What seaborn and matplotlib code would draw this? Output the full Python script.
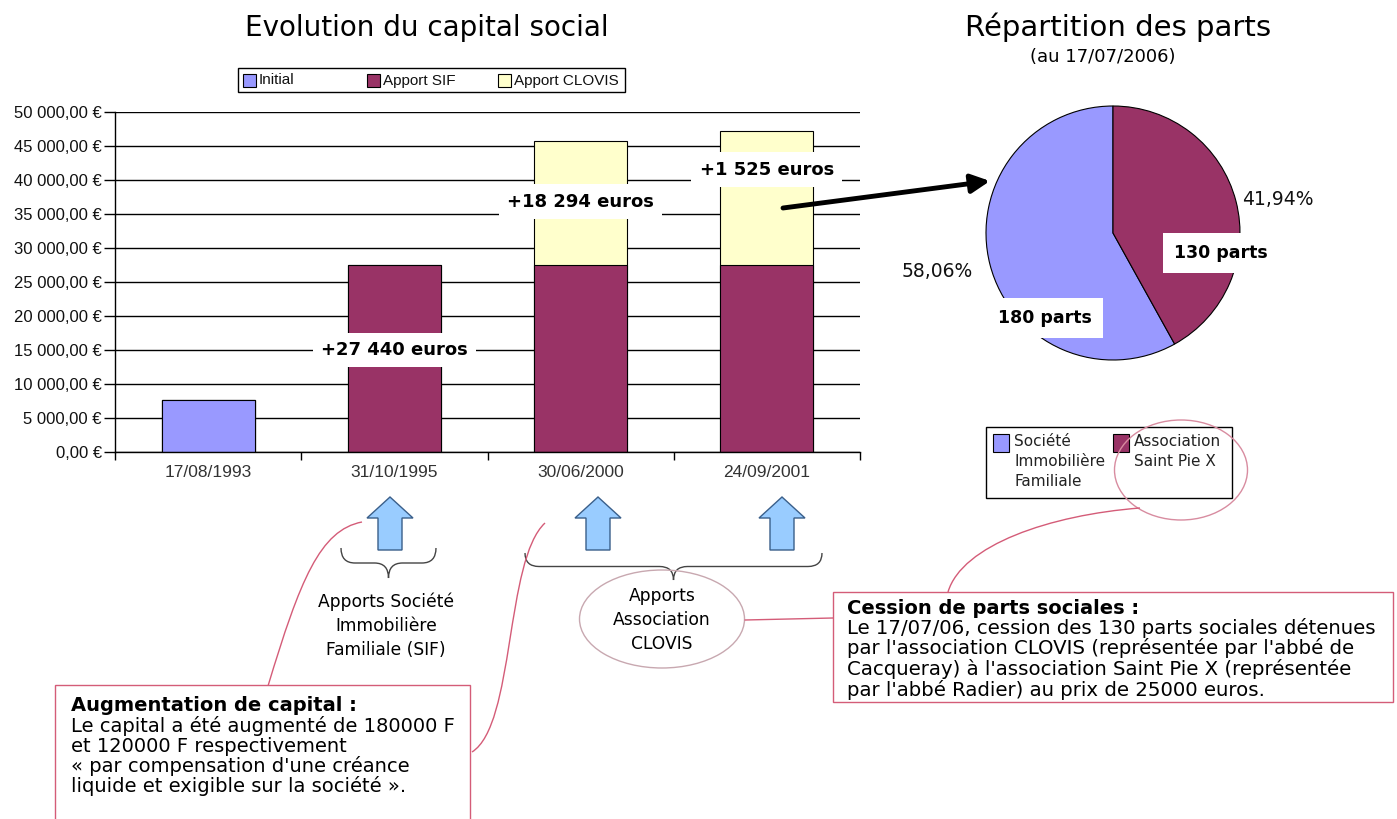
import matplotlib
matplotlib.use("Agg")
import matplotlib.pyplot as plt
import seaborn as sns
import pandas as pd
from matplotlib.patches import Ellipse, Rectangle, Polygon, PathPatch
from matplotlib.path import Path
from matplotlib.ticker import FuncFormatter, MultipleLocator, FixedLocator

# ---------------- data ----------------
dates = ["17/08/1993", "31/10/1995", "30/06/2000", "24/09/2001"]
initial = [7622.45, 0, 0, 0]
apport_sif = [0, 27440, 27440, 27440]
apport_clovis = [0, 0, 18294, 19819]
series_names = ["Initial", "Apport SIF", "Apport CLOVIS"]

pie_names = ["Société\nImmobilière\nFamiliale", "Association\nSaint Pie X"]
pie_parts = [180, 130]
pie_part_labels = ["180 parts", "130 parts"]

C_INIT = "#9999FF"
C_SIF = "#993366"
C_CLOVIS = "#FFFFCC"
C_RED = "#D45C78"
NARROW = ["Liberation Sans", "DejaVu Sans"]

sns.set_theme(style="white")
plt.rcParams["font.family"] = ["DejaVu Sans"]
plt.rcParams["text.color"] = "black"

W, H = 1397, 819
fig = plt.figure(figsize=(W / 100, H / 100), dpi=100)
fig.patch.set_facecolor("white")

def fx(px):
    return px / W

def fy(py):
    return 1 - py / H

# ---------------- bar chart ----------------
ax = fig.add_axes([fx(115), fy(452), fx(860) - fx(115), fy(112) - fy(452)])
df = pd.DataFrame({"date": dates, "initial": initial, "sif": apport_sif, "clovis": apport_clovis})
df["lvl1"] = df["initial"]
df["lvl2"] = df["initial"] + df["sif"]
df["lvl3"] = df["lvl2"] + df["clovis"]

for col, colr in [("lvl3", C_CLOVIS), ("lvl2", C_SIF), ("lvl1", C_INIT)]:
    sns.barplot(data=df, x="date", y=col, order=dates, color=colr, width=0.5,
                edgecolor="black", linewidth=0.8, saturation=1, ax=ax, zorder=2)

ax.set_ylim(0, 50000)
ax.set_xlim(-0.5, 3.5)
ax.yaxis.set_major_locator(MultipleLocator(5000))
ax.yaxis.set_major_formatter(FuncFormatter(
    lambda v, p: f"{v:,.2f}".replace(",", " ").replace(".", ",") + " €"))
ax.yaxis.grid(True, color="black", linewidth=1.0)
ax.set_axisbelow(True)
ax.set_xlabel("")
ax.set_ylabel("")
for s in ["top", "right"]:
    ax.spines[s].set_visible(False)
for s in ["left", "bottom"]:
    ax.spines[s].set_color("black")
    ax.spines[s].set_linewidth(1.0)
ax.tick_params(axis="y", direction="out", length=8, width=1, color="black",
               labelsize=12, pad=1.5, left=True, labelcolor="#111111",
               labelfontfamily="Liberation Sans")
ax.tick_params(axis="x", which="major", length=0, labelsize=12.5, pad=9, labelcolor="#333333",
               labelfontfamily="Liberation Sans")
ax.xaxis.set_minor_locator(FixedLocator([-0.5, 0.5, 1.5, 2.5, 3.5]))
ax.tick_params(axis="x", which="minor", direction="out", length=6, width=1, color="black", bottom=True)

# increment labels from data
inc_vals = [apport_sif[1], apport_clovis[2], apport_clovis[3] - apport_clovis[2]]
inc_pos = [(1, 15000), (2, 36800), (3, 41500)]
for v, (xi, yi) in zip(inc_vals, inc_pos):
    txt = "+" + f"{v:,.0f}".replace(",", " ") + " euros"
    ax.text(xi, yi, txt, ha="center", va="center", fontsize=13, fontweight="bold",
            zorder=5, bbox=dict(facecolor="white", edgecolor="none", pad=6))

# ---------------- pie chart ----------------
R = 127
L = 1.05
cx, cy = 1113, 233
half = L * R
axp = fig.add_axes([fx(cx - half), fy(cy + half), 2 * half / W, 2 * half / H])
wedges, _, autotexts = axp.pie(pie_parts, colors=[C_INIT, C_SIF], startangle=90,
                               wedgeprops=dict(edgecolor="black", linewidth=0.8),
                               autopct=lambda p: f"{p:.2f}%".replace(".", ","), pctdistance=1.38,
                               textprops=dict(fontsize=13.5, color="#111111"))
axp.set_xlim(-L, L)
axp.set_ylim(-L, L)
axp.set_aspect("equal")
for t, pos in zip(autotexts, [(-1.386, -0.307), (1.30, 0.26)]):
    t.set_position(pos)
for lab, (px_, py_) in zip(pie_part_labels, [(-0.535, -0.67), (0.85, -0.16)]):
    axp.text(px_, py_, lab, ha="center", va="center", fontsize=12.5, fontweight="bold",
             bbox=dict(facecolor="white", edgecolor="none", pad=8))

# ---------------- overlay annotations ----------------
ov = fig.add_axes([0, 0, 1, 1], zorder=10)
ov.set_xlim(0, W)
ov.set_ylim(H, 0)
ov.axis("off")
ov.patch.set_alpha(0)

# bar legend
ov.add_patch(Rectangle((238, 68), 387, 24, facecolor="white", edgecolor="black", lw=1))
for xh, name, colr in zip([243, 367, 498], series_names, [C_INIT, C_SIF, C_CLOVIS]):
    ov.add_patch(Rectangle((xh, 74), 13, 13, facecolor=colr, edgecolor="black", lw=0.8))
    ov.text(xh + 16, 80.5, name, ha="left", va="center", fontsize=11, family=NARROW, color="#111111")

# pie legend
ov.add_patch(Rectangle((986, 427), 246, 71, facecolor="white", edgecolor="black", lw=1))
for xh, name, colr in zip([993, 1113], pie_names, [C_INIT, C_SIF]):
    ov.add_patch(Rectangle((xh, 434), 16, 18, facecolor=colr, edgecolor="black", lw=0.8))
    for k, line in enumerate(name.split("\n")):
        ov.text(xh + 21, 442 + 20 * k, line, ha="left", va="center", fontsize=11, color="#222222")

ov.text(427, 28, "Evolution du capital social", ha="center", va="center", fontsize=20)
ov.text(1118, 27, "Répartition des parts", ha="center", va="center", fontsize=21)
ov.text(1103, 57, "(au 17/07/2006)", ha="center", va="center", fontsize=13)

# big arrow to pie
ov.annotate("", xy=(990, 181), xytext=(783, 208),
            arrowprops=dict(arrowstyle="-|>", lw=3.5, color="black", mutation_scale=28,
                            shrinkA=0, shrinkB=0))

# blue up arrows
for c in [390, 598, 782]:
    pts = [(c - 12, 550), (c + 12, 550), (c + 12, 518), (c + 23, 518), (c, 497),
           (c - 23, 518), (c - 12, 518)]
    ov.add_patch(Polygon(pts, closed=True, facecolor="#99CCFF", edgecolor="#3A5F8A", lw=1))

def brace(x0, x1, y0, h, r=14):
    xm = (x0 + x1) / 2
    ym = y0 + h / 2
    verts = [(x0, y0), (x0, ym), (x0 + r, ym), (xm - r, ym), (xm, ym), (xm, y0 + h),
             (xm, ym), (xm + r, ym), (x1 - r, ym), (x1, ym), (x1, y0)]
    codes = [Path.MOVETO, Path.CURVE3, Path.CURVE3, Path.LINETO, Path.CURVE3, Path.CURVE3,
             Path.CURVE3, Path.CURVE3, Path.LINETO, Path.CURVE3, Path.CURVE3]
    ov.add_patch(PathPatch(Path(verts, codes), facecolor="none", edgecolor="#444444", lw=1))

brace(341, 436, 548, 30)
brace(525, 822, 553, 27)

for k, line in enumerate(["Apports Société", "Immobilière", "Familiale (SIF)"]):
    ov.text(386, 602 + 24 * k, line, ha="center", va="center", fontsize=12.3)

ov.add_patch(Ellipse((662, 619), 165, 98, facecolor="none", edgecolor="#C8A8B0", lw=1))
for k, line in enumerate(["Apports", "Association", "CLOVIS"]):
    ov.text(662, 596 + 24 * k, line, ha="center", va="center", fontsize=12.3)
ov.add_patch(Ellipse((1181, 470), 133, 100, facecolor="none", edgecolor="#D88CA0", lw=1))

def curve(p0, p1, p2, p3, col=C_RED):
    ov.add_patch(PathPatch(Path([p0, p1, p2, p3], [Path.MOVETO, Path.CURVE4, Path.CURVE4, Path.CURVE4]),
                           facecolor="none", edgecolor=col, lw=1))

curve((268, 686), (300, 580), (320, 530), (362, 522))
curve((472, 752), (515, 725), (505, 560), (545, 523))
ov.plot([745, 833], [620, 618], color=C_RED, lw=1)
curve((948, 592), (962, 545), (1050, 515), (1140, 508))

# text boxes
ov.add_patch(Rectangle((55, 685), 415, 160, facecolor="white", edgecolor=C_RED, lw=1))
box1 = ["Le capital a été augmenté de 180000 F", "et 120000 F respectivement",
        "« par compensation d'une créance", "liquide et exigible sur la société »."]
ov.text(71, 711, "Augmentation de capital :", ha="left", va="baseline", fontsize=14, fontweight="bold")
for k, line in enumerate(box1):
    ov.text(71, 732 + 20 * k, line, ha="left", va="baseline", fontsize=14)

ov.add_patch(Rectangle((833, 592), 560, 110, facecolor="white", edgecolor=C_RED, lw=1))
box2 = ["Le 17/07/06, cession des 130 parts sociales détenues",
        "par l'association CLOVIS (représentée par l'abbé de",
        "Cacqueray) à l'association Saint Pie X (représentée",
        "par l'abbé Radier) au prix de 25000 euros."]
ov.text(847, 614, "Cession de parts sociales :", ha="left", va="baseline", fontsize=14, fontweight="bold")
for k, line in enumerate(box2):
    ov.text(847, 634 + 20.5 * k, line, ha="left", va="baseline", fontsize=14.2)

fig.savefig("out.png", dpi=100)
